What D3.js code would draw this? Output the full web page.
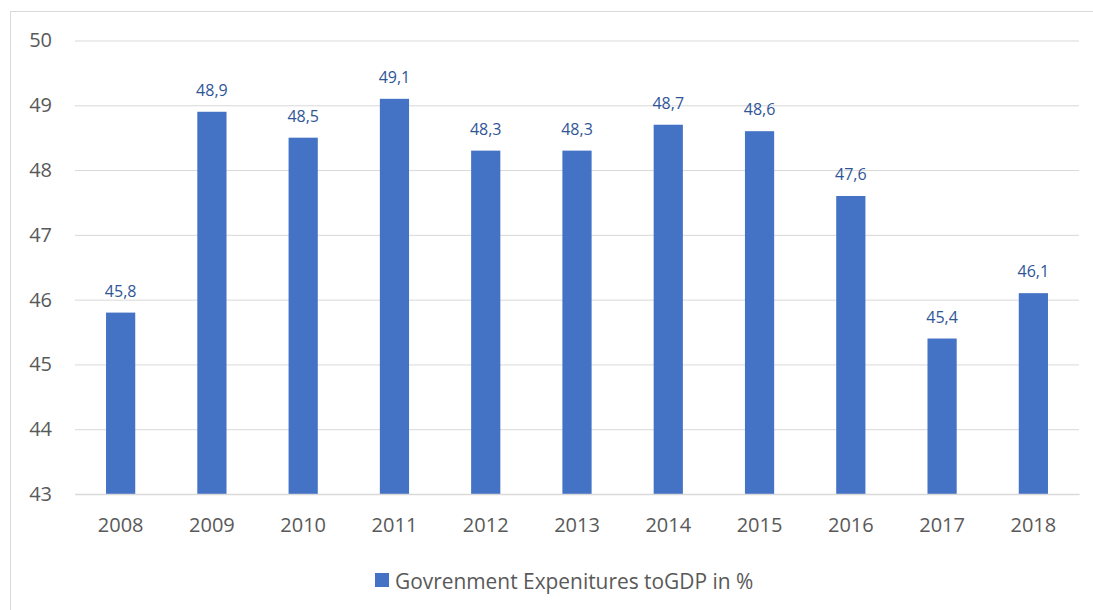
<!DOCTYPE html>
<html>
<head>
<meta charset="utf-8">
<script src="https://cdn.jsdelivr.net/npm/d3@7"></script>
<style>
  html, body { margin: 0; padding: 0; background: #fff; }
  svg { display: block; font-family: "Open Sans", sans-serif; }
</style>
</head>
<body>
<svg id="chart" width="1093" height="610"></svg>
<script>
// Government expenditures as share of GDP, by year
const years = ["2008", "2009", "2010", "2011", "2012", "2013", "2014", "2015", "2016", "2017", "2018"];
const values = [45.8, 48.9, 48.5, 49.1, 48.3, 48.3, 48.7, 48.6, 47.6, 45.4, 46.1];
const yTicks = [43, 44, 45, 46, 47, 48, 49, 50];
const seriesName = "Govrenment Expenitures toGDP in %";

const svg = d3.select("#chart");
const W = 1093, H = 610;
const plot = { left: 75, right: 1079, top: 40.5, bottom: 494 };

// Chart frame
svg.append("rect")
  .attr("x", 10.5).attr("y", 11.5)
  .attr("width", W).attr("height", H)
  .attr("fill", "none").attr("stroke", "#d9d9d9").attr("stroke-width", 1);

const x = d3.scaleBand().domain(years).range([plot.left, plot.right]).paddingInner(0.68).paddingOuter(0.34);
const y = d3.scaleLinear().domain([43, 50]).range([plot.bottom, plot.top]);

// Horizontal gridlines + y labels
const yAxis = svg.append("g")
  .attr("transform", `translate(${plot.left},0)`)
  .call(d3.axisLeft(y).tickValues(yTicks).tickSize(-(plot.right - plot.left)).tickPadding(23).tickFormat(d3.format("d")));
yAxis.select(".domain").remove();
yAxis.selectAll(".tick line").attr("stroke", "#d9d9d9").attr("stroke-width", 1);
yAxis.selectAll(".tick text").attr("fill", "#595959").style("font-size", "20px").style("font-family", "'Open Sans', sans-serif");

// Bars
svg.append("g").selectAll("rect")
  .data(values)
  .join("rect")
  .attr("x", (d, i) => x(years[i]))
  .attr("y", d => y(d))
  .attr("width", x.bandwidth())
  .attr("height", d => y(43) - y(d))
  .attr("fill", "#4472c4");

// Category axis baseline and labels
const xAxis = svg.append("g")
  .attr("transform", `translate(0,${plot.bottom})`)
  .call(d3.axisBottom(x).tickSize(0).tickPadding(24));
xAxis.select(".domain").attr("stroke", "#d9d9d9").attr("stroke-width", 1.5);
xAxis.selectAll(".tick text").attr("fill", "#595959").style("font-size", "20px").style("font-family", "'Open Sans', sans-serif");

// Value labels
const fmt = v => v.toFixed(1).replace(".", ",");
svg.append("g").selectAll("text")
  .data(values)
  .join("text")
  .attr("x", (d, i) => x(years[i]) + x.bandwidth() / 2)
  .attr("y", d => y(d) - 22)
  .attr("text-anchor", "middle")
  .attr("dominant-baseline", "central")
  .attr("fill", "#2f5597")
  .style("font-size", "16px")
  .text(fmt);

// Legend
const legend = svg.append("g").attr("transform", "translate(375,573)");
legend.append("rect").attr("width", 14).attr("height", 14).attr("fill", "#4472c4");
legend.append("text")
  .attr("x", 20).attr("y", 7.5)
  .attr("dominant-baseline", "central")
  .attr("fill", "#595959")
  .style("font-size", "20.9px")
  .text(seriesName);
</script>
</body>
</html>
